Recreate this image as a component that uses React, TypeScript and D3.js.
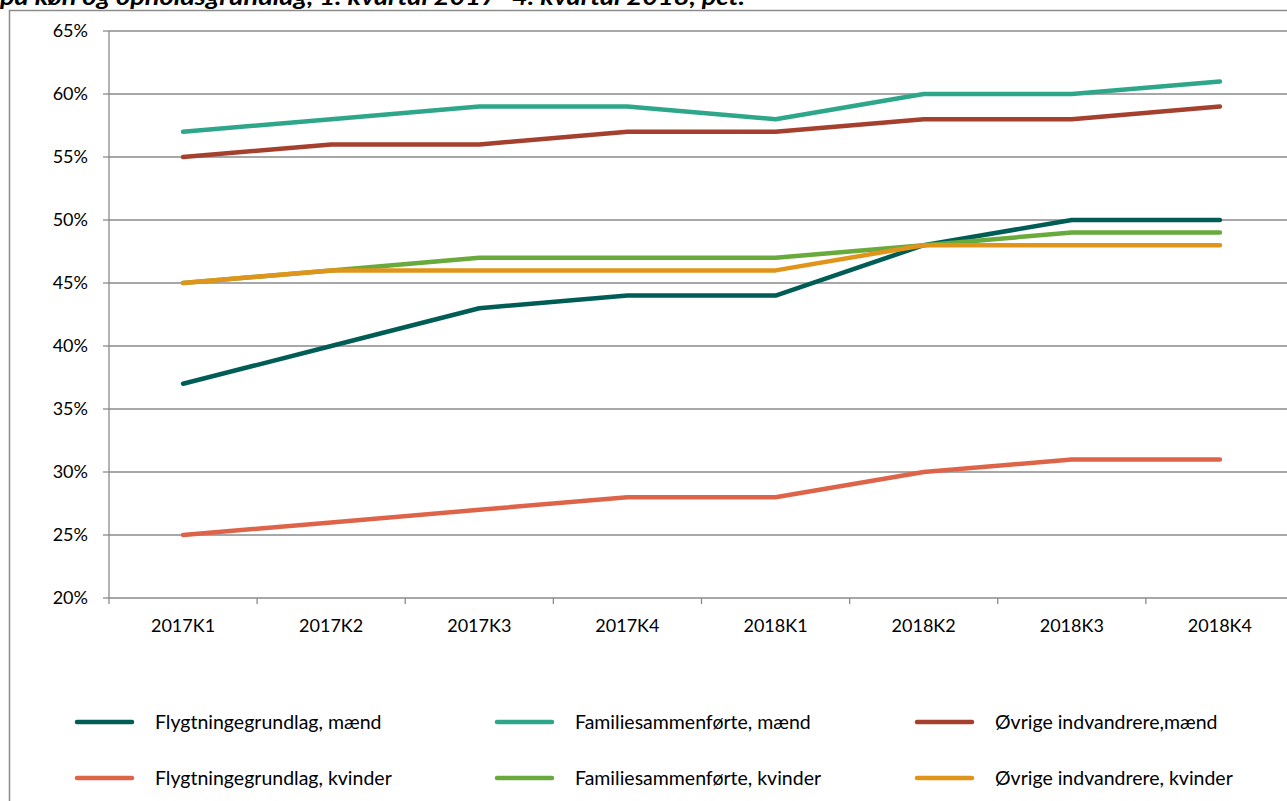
import React from "react";
import * as d3 from "d3";

const categories = ["2017K1", "2017K2", "2017K3", "2017K4", "2018K1", "2018K2", "2018K3", "2018K4"];
const yTicks = [20, 25, 30, 35, 40, 45, 50, 55, 60, 65];

const flygtMaend = [37, 40, 43, 44, 44, 48, 50, 50];
const familieMaend = [57, 58, 59, 59, 58, 60, 60, 61];
const oevrigeMaend = [55, 56, 56, 57, 57, 58, 58, 59];
const flygtKvinder = [25, 26, 27, 28, 28, 30, 31, 31];
const familieKvinder = [45, 46, 47, 47, 47, 48, 49, 49];
const oevrigeKvinder = [45, 46, 46, 46, 46, 48, 48, 48];

const seriesNames = [
  "Flygtningegrundlag, mænd",
  "Familiesammenførte, mænd",
  "Øvrige indvandrere,mænd",
  "Flygtningegrundlag, kvinder",
  "Familiesammenførte, kvinder",
  "Øvrige indvandrere, kvinder",
];
const seriesColors = ["#005d56", "#2ea68a", "#a5402f", "#de6449", "#69aa3c", "#e1941a"];

const title = "på køn og opholdsgrundlag, 1. kvartal 2017- 4. kvartal 2018, pct.";

export default function App() {
  const W = 1287, H = 801;
  const left = 109, right = 1294, top = 31, bottom = 598;
  const x = d3.scaleBand<string>().domain(categories).range([left, right]);
  const y = d3.scaleLinear().domain([20, 65]).range([bottom, top]);
  const allSeries = [flygtMaend, familieMaend, oevrigeMaend, flygtKvinder, familieKvinder, oevrigeKvinder];
  const drawOrder = [3, 0, 4, 5, 2, 1];
  const line = d3
    .line<number>()
    .x((_, i) => (x(categories[i]) as number) + x.bandwidth() / 2)
    .y((d) => y(d));
  const font = "Lato, 'Open Sans', sans-serif";
  const axisColor = "#8a8a8a";
  const legendCols = [77, 497, 917];
  const legendRows = [722, 778];
  return (
    <svg
      width={W}
      height={H}
      style={{ position: "fixed", left: 0, top: 0, background: "#fff" }}
      fontFamily={font}
    >
      <rect x={0} y={0} width={W} height={H} fill="#fff" />
      <text
        x={0}
        y={5}
        fontSize={22}
        fontStyle="italic"
        fontWeight="bold"
        fill="#000"
        textLength={745}
        lengthAdjust="spacingAndGlyphs"
      >
        {title}
      </text>
      <path d={`M9.5,${H + 5} V10.5 H${W + 5}`} fill="none" stroke="#8c8c8c" strokeWidth={1.5} />
      {yTicks.map((t) => (
        <g key={t}>
          {t > 20 && (
            <line x1={left} x2={W + 5} y1={y(t)} y2={y(t)} stroke={axisColor} strokeWidth={1.3} />
          )}
          <line x1={left - 6} x2={left} y1={y(t)} y2={y(t)} stroke={axisColor} strokeWidth={1.3} />
          <text x={88} y={y(t)} dy="0.35em" textAnchor="end" fontSize={18} fill="#000">
            {t}%
          </text>
        </g>
      ))}
      <line x1={left} x2={left} y1={top} y2={bottom} stroke={axisColor} strokeWidth={1.3} />
      <line x1={left} x2={W + 5} y1={bottom} y2={bottom} stroke={axisColor} strokeWidth={1.3} />
      {categories.map((c) => (
        <g key={c}>
          <line
            x1={x(c) as number}
            x2={x(c) as number}
            y1={bottom}
            y2={bottom + 6}
            stroke={axisColor}
            strokeWidth={1.3}
          />
          <text
            x={(x(c) as number) + x.bandwidth() / 2}
            y={626}
            dy="0.35em"
            textAnchor="middle"
            fontSize={18}
            fill="#000"
          >
            {c}
          </text>
        </g>
      ))}
      {drawOrder.map((si) => (
        <path
          key={si}
          d={line(allSeries[si]) as string}
          fill="none"
          stroke={seriesColors[si]}
          strokeWidth={4.5}
          strokeLinejoin="round"
          strokeLinecap="round"
        />
      ))}
      {seriesNames.map((n, i) => {
        const cx = legendCols[i % 3];
        const cy = legendRows[Math.floor(i / 3)];
        return (
          <g key={n}>
            <line
              x1={cx}
              x2={cx + 55}
              y1={cy}
              y2={cy}
              stroke={seriesColors[i]}
              strokeWidth={4.5}
              strokeLinecap="round"
            />
            <text x={cx + 78} y={cy} dy="0.35em" fontSize={19.5} fill="#000">
              {n}
            </text>
          </g>
        );
      })}
    </svg>
  );
}
